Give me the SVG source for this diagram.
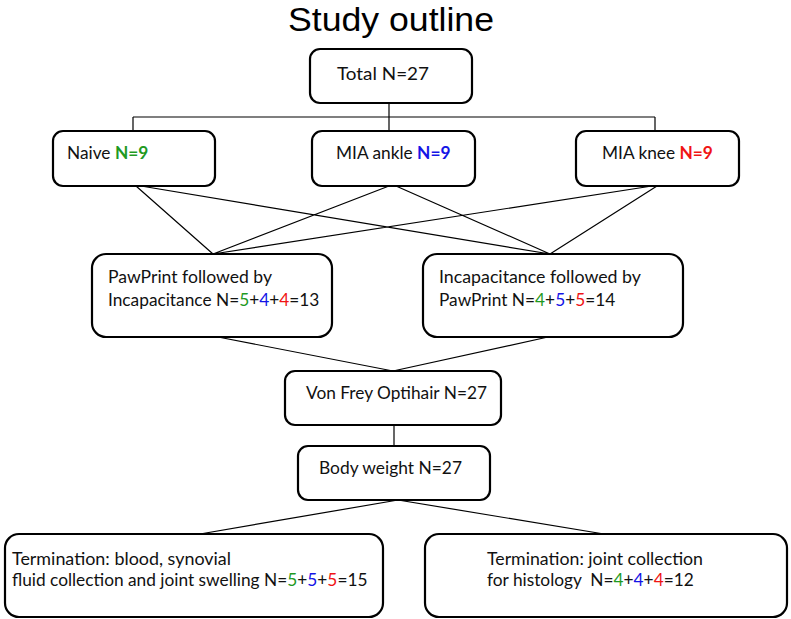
<svg xmlns="http://www.w3.org/2000/svg" width="791" height="619" viewBox="0 0 791 619">
<style>
.box{fill:#fff;stroke:#000;stroke-width:2.2}
.t{font-family:Lato,"Open Sans","Liberation Sans",sans-serif;font-size:17.3px;fill:#111}
.title{font-family:"Liberation Sans",Arial,sans-serif;font-size:33px;fill:#000}
.g{fill:#1f9a1f;font-weight:bold}
.b{fill:#1414e6;font-weight:bold}
.r{fill:#f01414;font-weight:bold}
.gn{fill:#1f9a1f}
.bn{fill:#1414e6}
.rn{fill:#f01414}
.c{stroke:#000;stroke-width:1.2;fill:none}
</style>
<rect width="791" height="619" fill="#fff"/>
<text class="title" x="391" y="31" text-anchor="middle" textLength="206" lengthAdjust="spacingAndGlyphs">Study outline</text>
<g id="connectors" class="c">
<path d="M389 103V117M133 117H655M133 117V131M389 117V131M655 117V131"/>
<path d="M136 186L213 254M141 186L550 254M389 186L213 254M396 186L550 254M652 186L213 254M657 186L550 254"/>
<path d="M218 337L393 371M548 337L393 371"/>
<path d="M394 425V446"/>
<path d="M398 500L200 534M398 500L604 534"/>
</g>
<g id="total"><rect class="box" x="310" y="49" width="162" height="54" rx="10"/><text class="t" x="337" y="80" textLength="92" lengthAdjust="spacingAndGlyphs">Total N=27</text></g>
<g id="naive"><rect class="box" x="53" y="131" width="162" height="55" rx="10"/><text class="t" x="67" y="159">Naive <tspan class="g">N=9</tspan></text></g>
<g id="ankle"><rect class="box" x="312" y="131" width="163" height="55" rx="10"/><text class="t" x="336" y="159">MIA ankle <tspan class="b">N=9</tspan></text></g>
<g id="knee"><rect class="box" x="576" y="131" width="163" height="55" rx="10"/><text class="t" x="602" y="159">MIA knee <tspan class="r">N=9</tspan></text></g>
<g id="pawprint"><rect class="box" x="92" y="254" width="240" height="83" rx="14"/><text class="t" x="108" y="283" textLength="164" lengthAdjust="spacingAndGlyphs">PawPrint followed by</text><text class="t" x="108" y="306">Incapacitance N=<tspan class="gn">5</tspan>+<tspan class="bn">4</tspan>+<tspan class="rn">4</tspan>=13</text></g>
<g id="incap"><rect class="box" x="423" y="254" width="260" height="83" rx="14"/><text class="t" x="439" y="283" textLength="202" lengthAdjust="spacingAndGlyphs">Incapacitance followed by</text><text class="t" x="439" y="306">PawPrint N=<tspan class="gn">4</tspan>+<tspan class="bn">5</tspan>+<tspan class="rn">5</tspan>=14</text></g>
<g id="vonfrey"><rect class="box" x="285" y="371" width="216" height="54" rx="10"/><text class="t" x="306" y="399" textLength="181" lengthAdjust="spacingAndGlyphs">Von Frey Optihair N=27</text></g>
<g id="bodyweight"><rect class="box" x="298" y="446" width="192" height="54" rx="10"/><text class="t" x="319" y="474" textLength="143" lengthAdjust="spacingAndGlyphs">Body weight N=27</text></g>
<g id="term1"><rect class="box" x="5" y="534" width="378" height="83" rx="14"/><text class="t" x="12" y="565" textLength="219" lengthAdjust="spacingAndGlyphs">Termination: blood, synovial</text><text class="t" x="12" y="586">fluid collection and joint swelling N=<tspan class="gn">5</tspan>+<tspan class="bn">5</tspan>+<tspan class="rn">5</tspan>=15</text></g>
<g id="term2"><rect class="box" x="425" y="534" width="362" height="83" rx="14"/><text class="t" x="487" y="565" textLength="216" lengthAdjust="spacingAndGlyphs">Termination: joint collection</text><text class="t" x="487" y="586" xml:space="preserve">for histology  N=<tspan class="gn">4</tspan>+<tspan class="bn">4</tspan>+<tspan class="rn">4</tspan>=12</text></g>
</svg>
